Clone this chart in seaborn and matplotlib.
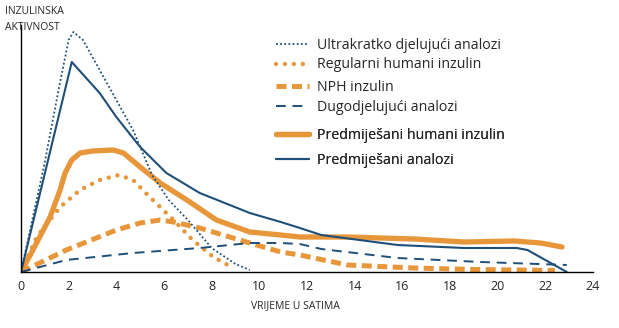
import matplotlib
matplotlib.use("Agg")
import matplotlib.pyplot as plt
import seaborn as sns
import pandas as pd
from matplotlib.lines import Line2D

# ---- data (hours, relative activity) ----
ultra_t = [0, 1.0, 1.6, 2.0, 2.2, 2.6, 3.3, 4.0, 4.7, 5.5, 6.2, 7.0, 8.0, 9.0, 9.6]
ultra_y = [0, 110, 185, 232, 240, 232, 202, 172, 142, 97, 72, 52, 24, 8, 2]

reg_t = [0, 0.66, 1.64, 2.48, 3.3, 4.1, 4.7, 5.4, 6.4, 7.2, 8.07, 8.9]
reg_y = [0, 35, 65, 82, 92, 97, 92, 75, 52, 32, 15, 4]

nph_t = [0, 1.9, 4.0, 5.0, 5.84, 6.4, 7.5, 9.6, 10.9, 11.7, 13.7, 16.5, 19.0, 22.4]
nph_y = [0, 22, 42, 49, 52, 50, 44, 29, 20, 17, 7, 4, 2.5, 1.5]

dugo_t = [0, 1.9, 4.7, 7.5, 9.6, 10.9, 11.7, 12.6, 15.8, 19.3, 22.9]
dugo_y = [0, 12, 19, 24, 29, 29, 28, 23, 14, 10, 7]

pmh_t = [0, 0.5, 1.22, 1.64, 1.85, 2.13, 2.48, 3.0, 3.87, 4.3, 5.0, 5.84, 6.96, 8.2, 9.6, 10.9,
         11.7, 13.7, 16.5, 18.6, 20.7, 21.8, 22.7]
pmh_y = [0, 22, 55, 82, 99, 112, 119, 121, 122, 119, 105, 89, 72, 52, 40, 37,
         35, 35, 33, 30, 31, 29, 25]

pma_t = [0, 2.13, 3.3, 4.0, 5.0, 6.1, 7.5, 9.6, 10.9, 11.7, 12.6, 15.8, 18.6, 20.8, 21.25, 22.9]
pma_y = [0, 210, 179, 155, 125, 99, 79, 59, 50, 44, 37, 27, 24, 24, 22, 0]

labels = ["Ultrakratko djelujući analozi", "Regularni humani inzulin", "NPH inzulin",
          "Dugodjelujući analozi", "Predmiješani humani inzulin", "Predmiješani analozi"]
x_ticks = list(range(0, 25, 2))
x_label = "VRIJEME U SATIMA"
y_label_lines = ["INZULINSKA", "AKTIVNOST"]

NAVY = "#1f4e79"
ORANGE = "#e8963a"

series = [(ultra_t, ultra_y), (reg_t, reg_y), (nph_t, nph_y),
          (dugo_t, dugo_y), (pmh_t, pmh_y), (pma_t, pma_y)]
df = pd.concat([pd.DataFrame({"t": t, "y": y, "s": lab}) for (t, y), lab in zip(series, labels)],
               ignore_index=True)

sns.set_style("white")
plt.rcParams["font.family"] = ["Open Sans", "DejaVu Sans"]

styles = {
    labels[0]: dict(color=NAVY, lw=1.3, ls=(0, (1, 1.3))),
    labels[1]: dict(color=ORANGE, lw=3.2, ls=(0, (0.01, 2.0)), solid_capstyle="round", dash_capstyle="round"),
    labels[2]: dict(color=ORANGE, lw=3.6, ls=(0, (2.0, 1.1))),
    labels[3]: dict(color=NAVY, lw=1.4, ls=(0, (5, 3.5))),
    labels[4]: dict(color=ORANGE, lw=3.8, ls="-"),
    labels[5]: dict(color=NAVY, lw=1.5, ls="-"),
}

fig = plt.figure(figsize=(6.19, 3.28), dpi=100)
ax = fig.add_axes([21 / 619, 1 - 272 / 328, 572 / 619, 247 / 328])

order = [labels[4], labels[1], labels[2], labels[3], labels[5], labels[0]]
for lab in order:
    st = dict(styles[lab])
    ls = st.pop("ls")
    sns.lineplot(data=df[df["s"] == lab], x="t", y="y", ax=ax, estimator=None, sort=False,
                 linestyle=ls, **st)

ax.set_xlim(0, 24)
ax.set_ylim(0, 247)
ax.set_xticks(x_ticks)
ax.set_yticks([])
ax.set_xlabel("")
ax.set_ylabel("")
for s in ["top", "right"]:
    ax.spines[s].set_visible(False)
for s in ["left", "bottom"]:
    ax.spines[s].set_color("black")
    ax.spines[s].set_linewidth(1.0)
ax.tick_params(axis="x", direction="out", length=4, width=0.8, color="black",
               labelsize=9, pad=2)

fig.text(5 / 619, 1 - 11 / 328, y_label_lines[0], fontsize=7.5, va="center", ha="left")
fig.text(5 / 619, 1 - 27 / 328, y_label_lines[1], fontsize=7.5, va="center", ha="left")
fig.text(295 / 619, 1 - 306 / 328, x_label, fontsize=7.5, va="center", ha="center")

def handle(lab):
    st = dict(styles[lab])
    ls = st.pop("ls")
    return Line2D([], [], linestyle=ls, **st)

groups = [([labels[0], labels[1]], 55, 0.35), ([labels[2], labels[3]], 97.5, 0.4),
          ([labels[4], labels[5]], 148, 0.75)]
for labs, yc, sp in groups:
    leg = ax.legend([handle(l) for l in labs], labs, loc="center left",
                    bbox_to_anchor=(276 / 619, 1 - yc / 328), bbox_transform=fig.transFigure,
                    frameon=False, fontsize=10.2, handlelength=2.3, handletextpad=0.6,
                    labelspacing=sp, borderpad=0, borderaxespad=0)
    ax.add_artist(leg)

fig.savefig("out.png", dpi=100)
